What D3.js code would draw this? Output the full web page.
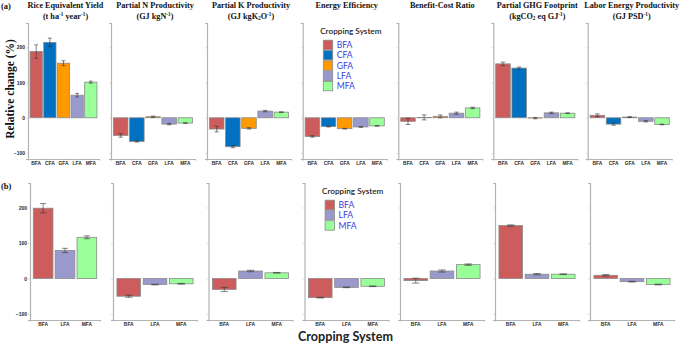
<!DOCTYPE html>
<html><head><meta charset="utf-8">
<script src="https://cdn.jsdelivr.net/npm/d3@7/dist/d3.min.js"></script>
<style>body{margin:0;background:#fff}svg{display:block}</style>
</head><body>
<script>
// ---------- DATA ----------
const categoriesA = ["BFA","CFA","GFA","LFA","MFA"];
const categoriesB = ["BFA","LFA","MFA"];
const yTicks = [-100, 0, 100, 200];
const titleLine1 = ["Rice Equivalent Yield","Partial N Productivity","Partial K Productivity","Energy Efficiency","Benefit-Cost Ratio","Partial GHG Footprint","Labor Energy Productivity"];
// second title line as [text, type] segments: type "n" normal, "sup", "sub"
const titleLine2 = [
  [["(t ha","n"],["-1","sup"],[" year","n"],["-1","sup"],[")","n"]],
  [["(GJ kgN","n"],["-1","sup"],[")","n"]],
  [["(GJ kgK","n"],["2","sub"],["O","n"],["-1","sup"],[")","n"]],
  [],
  [],
  [["(kgCO","n"],["2","sub"],[" eq GJ","n"],["-1","sup"],[")","n"]],
  [["(GJ PSD","n"],["-1","sup"],[")","n"]]
];
// row (a): values per panel, in categoriesA order
const valuesA = [
  [188, 214, 155, 64, 101],
  [-50, -67, 3, -18, -15],
  [-32, -82, -30, 19, 16],
  [-53, -25, -31, -26, -23],
  [-10, 1, 4, 13, 28],
  [153, 141, -1, 14, 13],
  [7, -18, 2, -10, -19]
];
const errorsA = [
  [19, 12, 7, 5, 3],
  [5, 2, 2, 2, 1],
  [8, 3, 2, 2, 1],
  [2, 1, 1, 1, 1],
  [9, 7, 4, 3, 2],
  [5, 3, 2, 2, 1],
  [4, 3, 1, 2, 1]
];
// row (b): values per panel, in categoriesB order
const valuesB = [
  [198, 79, 116],
  [-50, -17, -15],
  [-31, 21, 16],
  [-54, -25, -22],
  [-6, 21, 39],
  [149, 12, 12],
  [9, -9, -17]
];
const errorsB = [
  [13, 6, 4],
  [3, 1, 1],
  [6, 2, 1],
  [1, 1, 1],
  [7, 3, 2],
  [2, 2, 1],
  [2, 1, 1]
];
const colors = {BFA:"#CD5C5C", CFA:"#0070C0", GFA:"#FF9900", LFA:"#9999CC", MFA:"#99FF99"};

// ---------- LAYOUT ----------
const W = 684, H = 344;
const svg = d3.select("body").append("svg").attr("width", W).attr("height", H);
const rows = [
  {cats: categoriesA, vals: valuesA, errs: errorsA, lefts:[28,111,207,302.7,398.3,493.3,587.7], widths:[71,84,84,84,84,84,84], top:23, bottom:159, tag:"(a)", tagY:8.5, titles:true},
  {cats: categoriesB, vals: valuesB, errs: errorsB, lefts:[30,113,208.5,304.5,400,495,590], widths:[70,84,84,84,84,84,84], top:183, bottom:320, tag:"(b)", tagY:189, titles:false}
];
const serif = "'Liberation Serif','Times New Roman',serif";
const sans = "'Liberation Sans',Arial,sans-serif";
const lato = "Lato,'Open Sans',sans-serif";

rows.forEach((row, ri) => {
  const y = d3.scaleLinear().domain([-117, 269]).range([row.bottom, row.top]);
  svg.append("text").attr("x", 1).attr("y", row.tagY).text(row.tag)
    .attr("font-family", serif).attr("font-weight", "bold").attr("font-size", 8.5).attr("fill", "#111");

  row.vals.forEach((vals, pi) => {
    const x0 = row.lefts[pi], x1 = x0 + row.widths[pi];
    const x = d3.scaleBand().domain(row.cats).range([x0, x1]).paddingInner(0.1).paddingOuter(0.15);
    const g = svg.append("g");

    // bars
    g.selectAll("rect.bar").data(row.cats.map((c, i) => ({c, v: vals[i], e: row.errs[pi][i]})))
      .join("rect").attr("class", "bar")
      .attr("x", d => x(d.c)).attr("width", x.bandwidth())
      .attr("y", d => y(Math.max(0, d.v))).attr("height", d => Math.abs(y(d.v) - y(0)))
      .attr("fill", d => colors[d.c]).attr("stroke", "#8a8a8a").attr("stroke-width", 0.8);

    // error bars
    const cap = x.step() * 0.14;
    const eb = g.selectAll("g.eb").data(row.cats.map((c, i) => ({c, v: vals[i], e: row.errs[pi][i]})))
      .join("g").attr("stroke", "#333").attr("stroke-width", 0.6);
    eb.append("line").attr("x1", d => x(d.c) + x.bandwidth()/2).attr("x2", d => x(d.c) + x.bandwidth()/2)
      .attr("y1", d => y(d.v - d.e)).attr("y2", d => y(d.v + d.e));
    eb.append("line").attr("x1", d => x(d.c) + x.bandwidth()/2 - cap).attr("x2", d => x(d.c) + x.bandwidth()/2 + cap)
      .attr("y1", d => y(d.v + d.e)).attr("y2", d => y(d.v + d.e));
    eb.append("line").attr("x1", d => x(d.c) + x.bandwidth()/2 - cap).attr("x2", d => x(d.c) + x.bandwidth()/2 + cap)
      .attr("y1", d => y(d.v - d.e)).attr("y2", d => y(d.v - d.e));

    // axes
    const ya = g.append("g").attr("transform", `translate(${x0},0)`)
      .call(d3.axisLeft(y).tickValues(yTicks).tickSize(2).tickPadding(1).tickFormat(pi === 0 ? d3.format("d") : ""));
    const xa = g.append("g").attr("transform", `translate(0,${row.bottom})`)
      .call(d3.axisBottom(x).tickSize(1.5).tickPadding(1.5));
    [ya, xa].forEach(a => {
      a.select(".domain").attr("stroke", "#b3b3b3").attr("stroke-width", 1.2);
      a.selectAll(".tick line").attr("stroke", "#c8c8c8").attr("stroke-width", 0.6);
      a.selectAll("text").attr("font-family", sans).attr("font-weight", "bold").attr("fill", "#2a2a2a");
    });
    ya.selectAll("text").attr("font-size", 5);
    xa.selectAll("text").attr("font-size", 4.9);

    // titles
    if (row.titles) {
      const cx = (x0 + x1) / 2 + 2;
      svg.append("text").attr("x", cx).attr("y", 8).attr("text-anchor", "middle")
        .attr("font-family", serif).attr("font-weight", "bold").attr("font-size", 8.2).attr("fill", "#111")
        .text(titleLine1[pi]);
      if (titleLine2[pi].length) {
        const t = svg.append("text").attr("x", cx).attr("y", 18.5).attr("text-anchor", "middle")
          .attr("font-family", serif).attr("font-weight", "bold").attr("font-size", 8.2).attr("fill", "#111");
        let prev = 0;
        titleLine2[pi].forEach(([s, type]) => {
          const ts = t.append("tspan").text(s);
          const target = type === "sup" ? -3 : type === "sub" ? 1.5 : 0;
          if (type !== "n") ts.attr("font-size", 5.3);
          ts.attr("dy", target - prev);
          prev = target;
        });
      }
    }

    // legend in 4th panel
    if (pi === 3) {
      const lg = svg.append("g").attr("transform", `translate(${x0},${row.top})`);
      lg.append("text").attr("x", 17.5).attr("y", 10.5).text("Cropping System")
        .attr("font-family", lato).attr("font-weight", 600).attr("font-size", 8.2).attr("fill", "#222");
      row.cats.forEach((c, i) => {
        lg.append("rect").attr("x", 20.6).attr("y", 17.2 + i * 10.3).attr("width", 9.4).attr("height", 9.4)
          .attr("fill", colors[c]).attr("stroke", "#8a8a8a").attr("stroke-width", 0.8);
        lg.append("text").attr("x", 34).attr("y", 17.2 + i * 10.3 + 7.9).text(c)
          .attr("font-family", lato).attr("font-size", 8.6).attr("fill", "#3c3ce0");
      });
    }
  });
});

// y label
svg.append("text").attr("transform", "translate(14,89) rotate(-90)").attr("text-anchor", "middle")
  .attr("font-family", serif).attr("font-weight", "bold").attr("font-size", 11.5).attr("fill", "#111")
  .text("Relative change (%)");
// x label
svg.append("text").attr("x", 345.5).attr("y", 341).attr("text-anchor", "middle")
  .attr("font-family", lato).attr("font-weight", "bold").attr("font-size", 12.6).attr("fill", "#222")
  .text("Cropping System");
</script>
</body></html>
